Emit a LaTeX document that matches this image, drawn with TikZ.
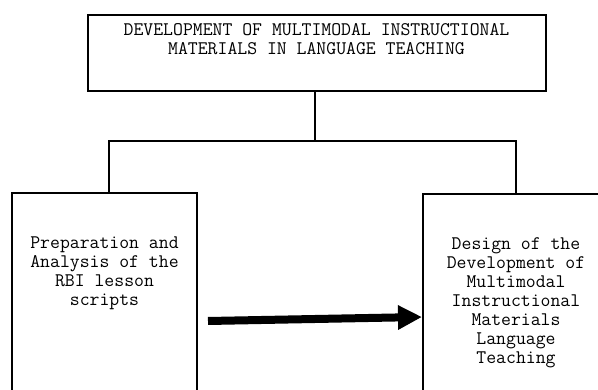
\documentclass[tikz,border=0pt]{standalone}
\usepackage{fontspec}
\usetikzlibrary{arrows.meta}
\begin{document}
\begin{tikzpicture}[x=1pt,y=-1pt,
    box/.style={draw,line width=2pt,rectangle,inner sep=0pt},
    txt/.style={align=center,inner sep=0pt,font=\ttfamily\fontsize{19.2}{19}\selectfont},
    conn/.style={line width=2pt}]
  \clip (0,0) rectangle (598,390);
  \useasboundingbox (0,0) rectangle (598,390);
  \coordinate (L) at (109,141);
  \coordinate (R) at (516,141);

  % BOXES
  \node[box,minimum width=458pt,minimum height=76pt] (dev) at (317,53) {};
  \node[box,minimum width=185pt,minimum height=252pt] (prep) at (104.5,319) {};
  \node[box,minimum width=186pt,minimum height=252pt] (design) at (516,320) {};

  % TEXT
  \node[txt] (devtxt) at (316.5,39)
    {DEVELOPMENT OF MULTIMODAL INSTRUCTIONAL\\MATERIALS IN LANGUAGE TEACHING};
  \node[txt] (preptxt) at (104.5,273) {Preparation and\\Analysis of the\\RBI lesson\\scripts};
  \node[txt] (designtxt) at (516,303)
    {Design of the\\Development of\\Multimodal\\Instructional\\Materials\\Language\\Teaching};

  % BRANCHES
  \draw[conn] ([xshift=-2pt]dev.south) -- ([xshift=-2pt]dev.south |- L);
  \draw[conn] (L |- prep.north) -- (L) -- (R) -- (R |- design.north);

  % ARROW
  \draw[-{Triangle[length=24pt,width=23pt]},line width=8pt]
    ([xshift=10pt,yshift=-2pt]prep.east) -- ([yshift=3pt]design.west);
\end{tikzpicture}
\end{document}
